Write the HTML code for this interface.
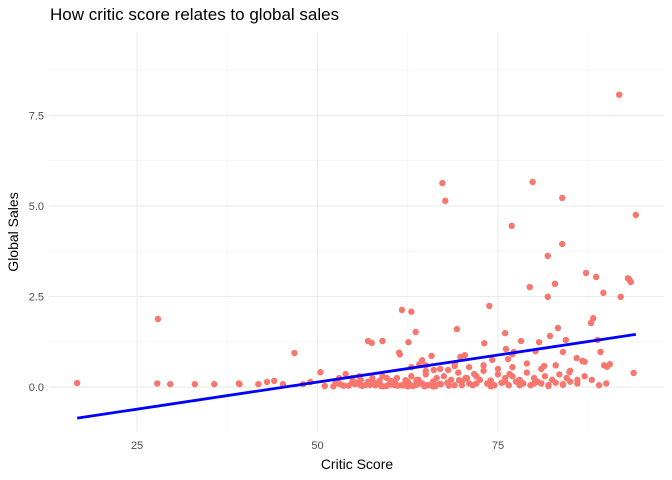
<!DOCTYPE html>
<html><head><meta charset="utf-8"><style>
body{margin:0;background:#fff;}
svg{display:block;font-family:"Liberation Sans",sans-serif;}
</style></head><body>
<svg id="chart" width="672" height="480"></svg>
<script>
const criticScores=[16.7,27.9,27.8,29.6,33,35.7,39.1,39.2,41.8,43,44,45.2,46.8,48,49,50.4,51,52.5,53,53.9,54.8,55.2,55.8,57,57.5,57.6,57.9,59,58.6,59.6,60.2,60.7,61.3,61.4,61.7,62.2,62.5,63,62.6,63.6,63.7,64.1,64.5,65,65.8,66.1,67.3,67.7,68.1,69,69.3,69.8,70.4,69.6,70.7,71.7,73.1,73.8,74.2,76,76.1,76.4,76.6,76.9,77,77.2,78.2,79.4,79.8,80.2,80.7,81.4,81.9,81.9,82.2,82.9,83.3,83.9,83.9,84,84.4,84.9,85.9,86.7,87.2,87.9,88.2,88.6,88.8,89.2,89.6,89.7,90.1,90.5,91.8,92,93,93.2,93.4,94.1,93.8,
55,56,57,58,59,60,61,62,62.5,63,63.5,64,64.5,65,65.5,66,66.5,67,67.5,68,68.5,69,69.5,70,70.5,71,71.5,72,72.5,73,73.5,74,74.5,75,75.5,76,76.5,77,77.5,78,78.5,79,79.5,80,80.5,81,81.5,82,82.5,83,83.5,84,84.5,85,86,87,88,89,90,
62,64,66,68,70,72,74,76,78,80,82,84,86,63,65,67,69,71,73,75,77,79,81,83,85,87,
52.2,53.1,54.3,55.4,56.2,57.3,58.4,59.1,60.2,61.1,62.1,63.2,64.1,65.2,66.3,67.1,68.2,54.8,56.7,58.8,60.8,62.9,64.8,66.8,53.6,55.9,57.7,59.6,61.7,63.8];
const globalSales=[0.11,1.88,0.1,0.08,0.08,0.08,0.1,0.08,0.08,0.14,0.17,0.08,0.94,0.08,0.14,0.41,0.03,0.11,0.25,0.36,0.25,0.08,0.3,1.27,1.22,0.25,0.11,1.27,0.17,0.25,0.17,0.05,0.95,0.9,2.13,0.19,0.02,2.08,1.24,1.52,0.19,0.63,0.74,0.44,0.86,0.47,5.63,5.14,0.47,0.58,1.6,0.83,0.88,0.19,0.25,0.36,1.21,2.24,0.75,1.49,1.05,0.77,0.36,4.45,0.91,0.97,1.27,2.76,5.66,0.99,1.24,0.58,3.62,2.49,1.41,2.85,1.63,3.95,5.22,0.97,1.3,0.41,0.8,0.72,3.15,1.77,1.9,3.04,1.3,0.97,2.6,0.6,0.56,0.63,8.07,2.49,3.0,2.97,2.9,4.75,0.39,
0.1,0.2,0.15,0.05,0.3,0.1,0.25,0.05,0.15,0.3,0.05,0.2,0.1,0.35,0.05,0.15,0.25,0.08,0.3,0.12,0.2,0.05,0.4,0.15,0.25,0.1,0.05,0.3,0.2,0.45,0.1,0.18,0.05,0.35,0.12,0.25,0.05,0.3,0.15,0.2,0.1,0.4,0.05,0.25,0.15,0.1,0.3,0.05,0.2,0.12,0.35,0.08,0.25,0.15,0.1,0.3,0.2,0.05,0.1,
0.05,0.1,0.02,0.12,0.05,0.1,0.02,0.15,0.05,0.1,0.03,0.06,0.2,0.55,0.6,0.5,0.65,0.55,0.6,0.5,0.55,0.65,0.5,0.6,0.45,0.7,
0.02,0.08,0.04,0.12,0.03,0.06,0.1,0.02,0.07,0.04,0.09,0.03,0.11,0.05,0.02,0.08,0.04,0.12,0.06,0.03,0.1,0.05,0.02,0.08,0.04,0.06,0.1,0.03,0.05,0.07];
const xTicks=[25,50,75];
const yTicks=[0,2.5,5,7.5];
const yTickLabels=["0.0","2.5","5.0","7.5"];

const NS="http://www.w3.org/2000/svg";
const svg=document.getElementById('chart');
const L=49,R=664,T=32,B=432;
const xMin=12.8,xMax=98,yMin=-1.24,yMax=9.8;
const xs=v=>L+(v-xMin)/(xMax-xMin)*(R-L);
const ys=v=>B-(v-yMin)/(yMax-yMin)*(B-T);
function mk(tag,attrs){const e=document.createElementNS(NS,tag);for(const k in attrs)e.setAttribute(k,attrs[k]);svg.appendChild(e);return e;}
for(let v=12.5;v<=100;v+=25){if(v<xMin||v>xMax)continue;const g=mk('line',{x1:xs(v),x2:xs(v),y1:T,y2:B,stroke:'#f2f2f2','stroke-width':0.6});

}
for(let v=-1.25;v<=10;v+=2.5){if(v<yMin||v>yMax)continue;const g=mk('line',{x1:L,x2:R,y1:ys(v),y2:ys(v),stroke:'#f2f2f2','stroke-width':0.6});

}
xTicks.forEach(v=>{const g=mk('line',{x1:xs(v),x2:xs(v),y1:T,y2:B,stroke:'#ebebeb','stroke-width':1.1});


const t=mk('text',{x:xs(v),y:449,'text-anchor':'middle','font-size':11,fill:'#4d4d4d'});t.textContent=v;

});
yTicks.forEach((v,i)=>{const g=mk('line',{x1:L,x2:R,y1:ys(v),y2:ys(v),stroke:'#ebebeb','stroke-width':1.1});


const t=mk('text',{x:44,y:ys(v)+4,'text-anchor':'end','font-size':11,fill:'#4d4d4d'});t.textContent=yTickLabels[i];

});
criticScores.forEach((x,i)=>{const c=mk('circle',{cx:xs(x),cy:ys(globalSales[i]),r:3.2,fill:'#F8766D'});

});
const n=criticScores.length;let sx=0,sy=0,sxx=0,sxy=0;
for(let i=0;i<n;i++){sx+=criticScores[i];sy+=globalSales[i];sxx+=criticScores[i]**2;sxy+=criticScores[i]*globalSales[i];}
const slope=(n*sxy-sx*sy)/(n*sxx-sx*sx),icpt=(sy-slope*sx)/n;
const x0=Math.min(...criticScores),x1=Math.max(...criticScores);
const ln=mk('line',{x1:xs(x0),y1:ys(icpt+slope*x0),x2:xs(x1),y2:ys(icpt+slope*x1),stroke:'#0000ff','stroke-width':2.8});


const tt=mk('text',{x:50,y:20,'font-size':17,fill:'#000'});tt.textContent='How critic score relates to global sales';


const xt=mk('text',{x:357,y:469,'text-anchor':'middle','font-size':14,fill:'#000'});xt.textContent='Critic Score';


const yt=mk('text',{x:18,y:232,'text-anchor':'middle','font-size':14,fill:'#000',transform:'rotate(-90 18 232)'});yt.textContent='Global Sales';


</script>
</body></html>
